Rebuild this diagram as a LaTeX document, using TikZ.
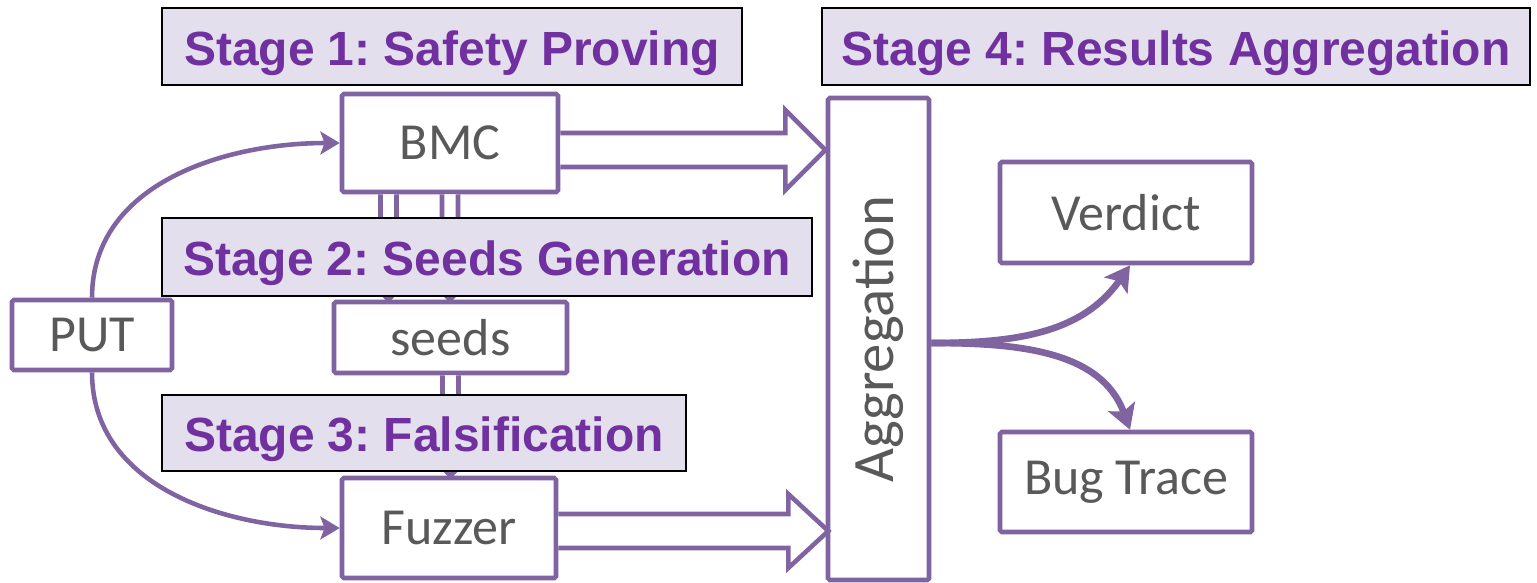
\documentclass[tikz,border=0pt]{standalone}
\usepackage{fontspec}
\setmainfont{Carlito}
\newfontfamily\stagefont{Liberation Sans}
\usetikzlibrary{calc,arrows.meta}

\definecolor{boxpurple}{HTML}{8064A2}
\definecolor{bannerfill}{HTML}{E4DFEC}
\definecolor{stagetext}{HTML}{7030A0}
\definecolor{labelgray}{HTML}{595959}

\tikzset{
    box/.style = {draw=boxpurple, line width=1.3pt, fill=white, text=labelgray,
        font=\fontsize{14.8}{16}\selectfont, inner sep=0pt, rounded corners=0.5pt},
    banner/.style = {draw=black, line width=0.8pt, fill=bannerfill, text=stagetext,
        font=\stagefont\bfseries\fontsize{13.65}{15}\selectfont, inner sep=0pt,
        text height=0.42cm, text depth=0.05cm},
    blockarrow/.style = {draw=boxpurple, line width=1.3pt, fill=white, line join=miter},
    flow/.style = {draw=boxpurple, line width=1.3pt,
        -{Stealth[length=5.5pt, width=6.5pt, inset=1.2pt]}},
    outflow/.style = {draw=boxpurple, line width=1.9pt,
        -{Stealth[length=7pt, width=8pt, inset=1.5pt]}},
}

\begin{document}
\frenchspacing
\begin{tikzpicture}
    \useasboundingbox (0,0) rectangle (15.37,5.82);

    % Boxes
    \node[box, minimum width=1.60cm, minimum height=0.70cm] (put) at (0.92,2.47) {PUT};
    \node[box, minimum width=2.16cm, minimum height=0.98cm] (bmc) at (4.50,4.39) {BMC};
    \node[box, minimum width=2.33cm, minimum height=0.71cm] (seeds) at (4.505,2.445) {seeds};
    \node[box, minimum width=2.14cm, minimum height=1.00cm] (fuzzer) at (4.49,0.54) {Fuzzer};
    \node[box, minimum width=1.01cm, minimum height=4.82cm] (agg) at (8.785,2.43)
        {\rotatebox{90}{\fontsize{16.7}{18}\selectfont Aggregation}};
    \node[box, minimum width=2.52cm, minimum height=1.01cm] (verdict) at (11.26,3.695) {Verdict};
    \node[box, minimum width=2.52cm, minimum height=1.00cm] (bug) at (11.26,1.00) {Bug Trace};

    % narrow hollow arrows BMC -> seeds -> Fuzzer
    \foreach \dx in {-0.615,0} {
        \draw[blockarrow] ($(bmc.south)+(\dx-0.08,0)$)
            -- ($(bmc.south |- seeds.north)+(\dx-0.08,0.2)$) -- ++(-0.12,0)
            -- ($(bmc.south |- seeds.north)+(\dx,0)$)
            -- ($(bmc.south |- seeds.north)+(\dx+0.2,0.2)$) -- ++(-0.12,0)
            -- ($(bmc.south)+(\dx+0.08,0)$);
    }
    \draw[blockarrow] ($(seeds.south)+(-0.08,0)$)
        -- ($(seeds.south |- fuzzer.north)+(-0.08,0.2)$) -- ++(-0.12,0)
        -- (seeds.south |- fuzzer.north)
        -- ($(seeds.south |- fuzzer.north)+(0.2,0.2)$) -- ++(-0.12,0)
        -- ($(seeds.south)+(0.08,0)$);

    % Stage banners
    \node[banner, minimum width=5.80cm, minimum height=0.77cm] (stage1) at (4.52,5.355) {Stage 1: Safety Proving};
    \node[banner, minimum width=6.50cm, minimum height=0.78cm] (stage2) at (4.87,3.25) {Stage 2: Seeds Generation};
    \node[banner, minimum width=5.24cm, minimum height=0.76cm] (stage3) at (4.24,1.49) {Stage 3: Falsification};
    \node[banner, minimum width=7.08cm, minimum height=0.77cm] (stage4) at (11.76,5.355) {Stage 4: Results Aggregation};

    % wide hollow arrows into the aggregation
    \draw[blockarrow] ($(bmc.east)+(0,0.10)$) -- ++(2.25,0) -- ++(0,0.23)
        -- ++(0.40,-0.40) -- ++(-0.40,-0.40) -- ++(0,0.23) -- ++(-2.25,0);
    \draw[blockarrow] ($(fuzzer.east)+(0,0.14)$) -- ++(2.30,0) -- ++(0,0.20)
        -- ++(0.40,-0.37) -- ++(-0.40,-0.37) -- ++(0,0.20) -- ++(-2.30,0);

    % PUT feeds both tools
    \draw[flow] (put.north) to[out=90, in=180] (bmc.west);
    \draw[flow] (put.south) to[out=-90, in=180] (fuzzer.west);

    % results
    \coordinate (split) at ($(agg.east)+(0,-0.04)$);
    \draw[outflow] (split) to[out=0, in=235] ([xshift=0.04cm]verdict.south);
    \draw[outflow] (split) to[out=0, in=110] ([xshift=0.04cm]bug.north);
\end{tikzpicture}
\end{document}
